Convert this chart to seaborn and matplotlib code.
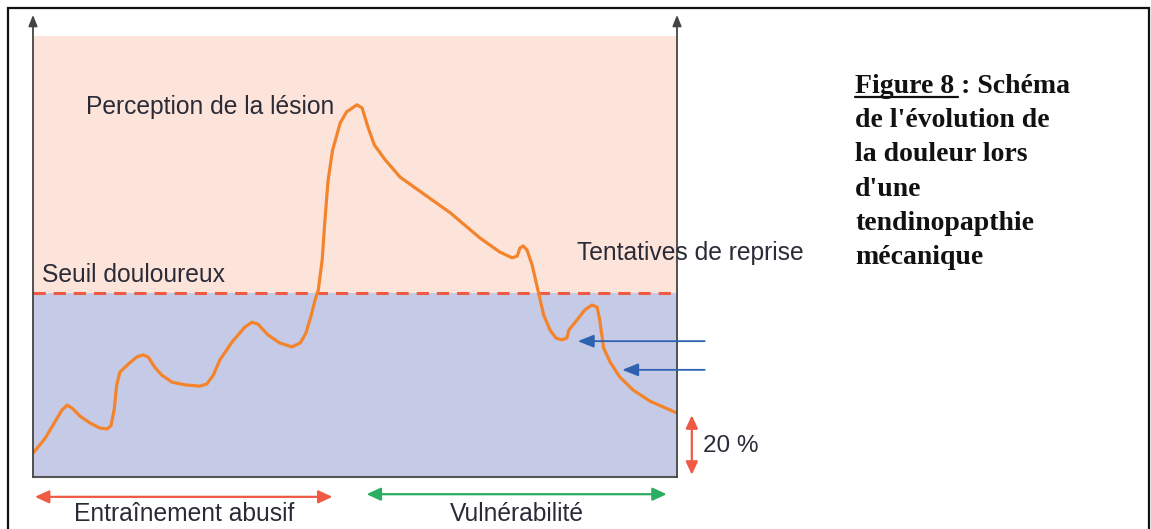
import pandas as pd
import matplotlib.pyplot as plt
import seaborn as sns
from matplotlib.patches import Rectangle

temps = [0, 1.9, 3.4, 4.5, 5.3, 6.1, 7.3, 8.9, 10.4, 11.5, 12.1, 12.6, 13.0, 13.5,
         14.8, 16.1, 17.1, 17.9, 18.9, 20.0, 21.6, 23.6, 25.9, 27.0, 28.0, 29.0,
         30.9, 32.9, 34.0, 34.9, 36.5, 38.3, 40.2, 41.5, 42.4, 43.2, 43.8, 44.3,
         44.9, 45.3, 45.8, 46.5, 47.7, 48.7, 50.3, 51.1, 52.0, 53.0, 54.7, 57.0,
         64.8, 69.4, 72.5, 74.4, 75.2, 75.6, 76.1, 76.7, 77.5, 78.4, 79.3, 80.3,
         81.2, 82.1, 82.9, 83.2, 84.2, 85.7, 86.8, 87.6, 88.0, 88.6, 89.6, 91.1,
         93.2, 95.8, 100]
douleur = [5.4, 8.8, 12.5, 15.2, 16.3, 15.6, 13.8, 12.2, 11.1, 10.9, 11.6, 15.2, 20.9, 23.8,
           25.6, 27.2, 27.7, 27.2, 24.9, 23.1, 21.5, 20.9, 20.6, 21.1, 23.1, 26.5,
           30.6, 34.0, 35.1, 34.7, 32.2, 30.4, 29.5, 30.4, 32.7, 36.7, 40.1, 42.4,
           49.2, 57.6, 67.0, 74.0, 80.3, 82.8, 84.4, 83.7, 79.4, 75.3, 71.9, 68.0,
           59.9, 54.2, 51.0, 49.7, 50.1, 51.9, 52.4, 51.5, 48.1, 42.4, 36.7, 33.3,
           31.5, 31.1, 31.5, 33.3, 35.1, 37.9, 39.0, 38.5, 35.6, 29.3, 26.1, 22.7,
           19.7, 17.2, 14.5]

seuil = 41.7          # seuil douloureux
phases = ["Entraînement abusif", "Vulnérabilité"]
phase_debut = [0.3, 51.8]
phase_fin = [46.5, 98.4]
reprises = [(84.6, 30.8), (91.5, 24.3)]   # pointes des flèches bleues
residuel = 14.5       # douleur résiduelle (20 %)

legende = ["Figure 8 : Schéma", "de l'évolution de", "la douleur lors",
           "d'une", "tendinopapthie", "mécanique"]

df = pd.DataFrame({"temps": temps, "douleur": douleur})

sns.set_style("white")
plt.rcParams["font.family"] = ["Liberation Sans", "DejaVu Sans"]

fig = plt.figure(figsize=(11.51, 5.29), dpi=100)
ax = fig.add_axes([33 / 1151, 52 / 529, 644 / 1151, 441 / 529])

# zones
ax.axhspan(0, seuil, color="#c5cbe6", lw=0, zorder=0)
ax.axhspan(seuil, 100, color="#fce4da", lw=0, zorder=0)
ax.axhline(seuil, color="#ee5a44", lw=2.2, ls=(0, (4, 2.6)), zorder=2)

sns.lineplot(data=df, x="temps", y="douleur", color="#f4842c", lw=2.3, ax=ax,
             sort=False, zorder=3, solid_joinstyle="round", solid_capstyle="round")

ax.set_xlim(0, 100)
ax.set_ylim(0, 100)
ax.set_xticks([])
ax.set_yticks([])
ax.set_xlabel("")
ax.set_ylabel("")
for s in ["top", "left", "right"]:
    ax.spines[s].set_visible(False)
ax.spines["bottom"].set_color("#555555")
ax.spines["bottom"].set_linewidth(1.5)

# axes verticaux avec flèche
for xv in [0, 100]:
    ax.annotate("", xy=(xv, 104.8), xytext=(xv, 0), annotation_clip=False,
                arrowprops=dict(arrowstyle="-|>,head_length=0.55,head_width=0.22",
                                color="#444444", lw=1.3,
                                mutation_scale=12, shrinkA=0, shrinkB=0))

txt = "#2b2b38"
fs = 17.7
ax.text(8.2, 83.9, "Perception de la lésion", fontsize=fs, color=txt, va="center")
ax.text(1.4, 45.8, "Seuil douloureux", fontsize=fs, color=txt, va="center")
ax.text(84.5, 50.8, "Tentatives de reprise", fontsize=fs, color=txt, va="center",
        clip_on=False)

# flèches bleues
for (xr, yr) in reprises:
    ax.annotate("", xy=(xr, yr), xytext=(104.3, yr), annotation_clip=False,
                arrowprops=dict(arrowstyle="-|>,head_length=0.75,head_width=0.3",
                                color="#2e62b0", lw=1.3,
                                mutation_scale=13, shrinkA=0, shrinkB=0))

# 20 %
ax.annotate("", xy=(102.3, residuel - 0.5), xytext=(102.3, 0.5), annotation_clip=False,
            arrowprops=dict(arrowstyle="<|-|>,head_length=0.65,head_width=0.3",
                            color="#ee5a44", lw=1.6,
                            mutation_scale=12, shrinkA=0, shrinkB=0))
ax.text(104.0, 7.0, "20 %", fontsize=17.5, color=txt, va="center", clip_on=False)

# phases
couleurs = ["#ee5a44", "#2aae62"]
y_fleche = [-4.5, -3.9]
for nom, d, f, c, yf in zip(phases, phase_debut, phase_fin, couleurs, y_fleche):
    ax.annotate("", xy=(f, yf), xytext=(d, yf), annotation_clip=False,
                arrowprops=dict(arrowstyle="<|-|>,head_length=0.65,head_width=0.3",
                                color=c, lw=1.6,
                                mutation_scale=13, shrinkA=0, shrinkB=0))
    ax.text((d + f) / 2, -8.4, nom, fontsize=fs, color=txt, ha="center", va="center",
            clip_on=False)

# légende de la figure
serif = ["Liberation Serif", "DejaVu Serif"]
x0 = 855 / 1151
fsl = 20
for i, ligne in enumerate(legende):
    yb = (529 - 93 - i * 34.2) / 529
    fig.text(x0, yb, ligne, fontsize=fsl, fontweight="bold", family=serif,
             va="baseline", color="#111111")

# soulignement de "Figure 8 "
fig.canvas.draw()
tmp = fig.text(x0, (529 - 93) / 529, "Figure 8 ", fontsize=fsl, fontweight="bold",
               family=serif, va="baseline", alpha=0)
bb = tmp.get_window_extent(fig.canvas.get_renderer())
yl = (529 - 97) / 529
fig.add_artist(plt.Line2D([x0, bb.x1 / 1151 - 3 / 1151], [yl, yl], color="#111111",
                          lw=1.6, transform=fig.transFigure))

# cadre extérieur
fig.add_artist(Rectangle((8 / 1151, -0.05), 1141 / 1151, (521 / 529) + 0.05,
                         transform=fig.transFigure, fill=False, lw=1.6,
                         edgecolor="#111111"))

fig.savefig("out.png", dpi=100)
